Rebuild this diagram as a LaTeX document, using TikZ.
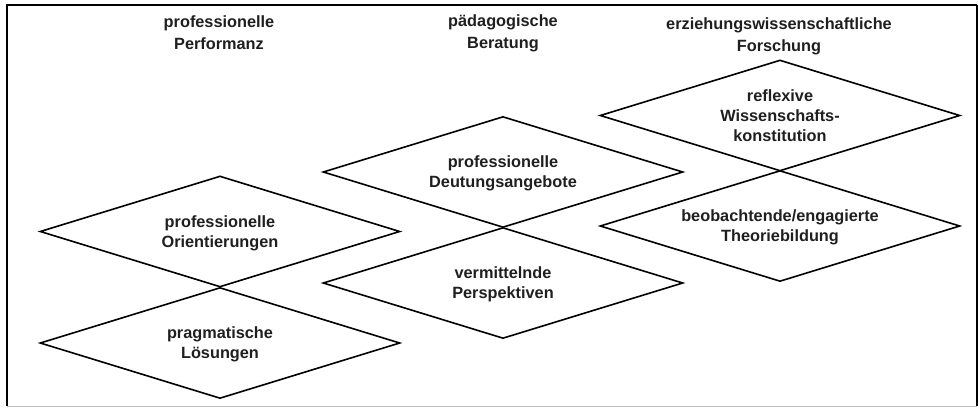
\documentclass[tikz,border=0pt]{standalone}
\usepackage{fontspec}
\setmainfont{Liberation Sans}
\usetikzlibrary{shapes.geometric}
\begin{document}
\begin{tikzpicture}[x=1pt,y=-1pt,
  txt/.style={font=\fontsize{16.3}{20}\selectfont\bfseries, text=black!88, align=center},
  head/.style={txt, font=\fontsize{16.3}{22}\selectfont\bfseries},
  rhomb/.style={shape=diamond, draw=black, line width=1.6pt, inner sep=0pt,
    minimum width=360pt, minimum height=111pt, aspect=3.24},
  frameline/.style={line width=2pt, draw=black}]
\useasboundingbox (0,0) rectangle (979,407);
% frame
\coordinate (tl) at (7,5);
\coordinate (tr) at (977,5);
\coordinate (bl) at (7,406);
\coordinate (br) at (977,406);
\draw[draw=black!25, line width=1pt] (bl) -- (br);
\draw[line width=1.3pt] (tr) -- (br);
\draw[frameline] (bl) -- (tl) -- (tr);
% headers
\node[head] (h1) at (219,33) {professionelle\\Performanz};
\node[head] (h2) at (503,33) {pädagogische\\Beratung};
\node[head] (h3) at (779,36) {erziehungswissenschaftliche\\Forschung};
% diamonds
\node[rhomb] (d1) at (220,231.5) {};
\node[rhomb] (d2) at (220,343) {};
\node[rhomb] (d3) at (503,172) {};
\node[rhomb] (d4) at (503,283) {};
\node[rhomb] (d5) at (780,115.5) {};
\node[rhomb] (d6) at (780,226) {};
% diamond texts
\node[txt, yshift=-1.7pt] (t1) at (d1) {professionelle\\Orientierungen};
\node[txt, yshift=-1.7pt] (t2) at (d2) {pragmatische\\Lösungen};
\node[txt, yshift=-1.7pt] (t3) at (d3) {professionelle\\Deutungsangebote};
\node[txt, yshift=-1.7pt] (t4) at (d4) {vermittelnde\\Perspektiven};
\node[txt] (t5) at (d5) {reflexive\\Wissenschafts-\\konstitution};
\node[txt, yshift=-1.7pt] (t6) at (d6) {beobachtende/engagierte\\Theoriebildung};
\end{tikzpicture}
\end{document}
